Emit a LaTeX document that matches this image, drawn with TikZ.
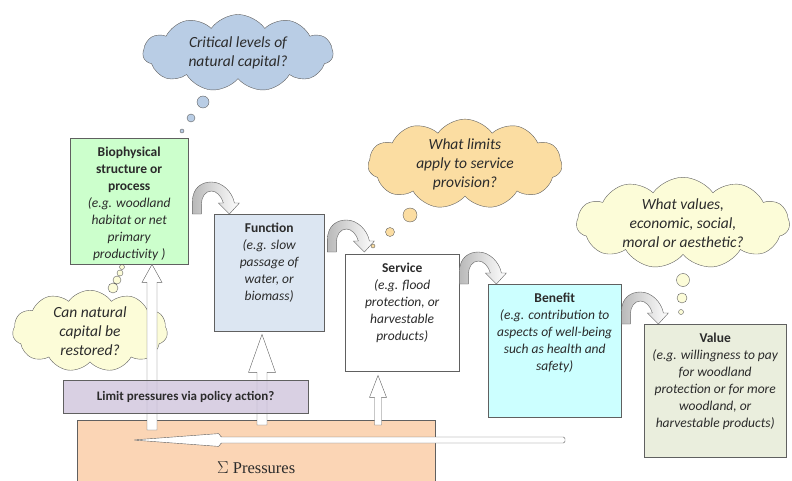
\documentclass[tikz,border=0pt]{standalone}
\usepackage{fontspec}
\setmainfont{Carlito}
\newfontfamily\timesfont{Liberation Serif}
\usetikzlibrary{shapes.symbols,calc}

\definecolor{txt}{HTML}{2B2B2B}
\definecolor{edge}{HTML}{606060}
\definecolor{biofill}{HTML}{CCFFCC}
\definecolor{funfill}{HTML}{DCE6F2}
\definecolor{benfill}{HTML}{CCFFFF}
\definecolor{valfill}{HTML}{EAEEDD}
\definecolor{pressfill}{HTML}{FBD5B5}
\definecolor{polfill}{HTML}{CCC0DA}
\definecolor{cloudblue}{HTML}{B9CDE5}
\definecolor{cloudtan}{HTML}{FBDDA2}
\definecolor{cloudpale}{HTML}{FCFCD8}

% text of a box, set from the top
\newcommand\boxtext[3]{\parbox[t][#2][t]{#1}{\centering\vspace*{9pt}#3}}

% hollow block arrow going up from #1 to #2
\newcommand\blockup[5]{%
  \draw[blockarr] let \p1=(#1), \p2=(#2) in
    (\x1-#3,\y1) -- (\x1-#3,\y2-#5) -- (\x1-#4,\y2-#5) -- (\x1,\y2)
    -- (\x1+#4,\y2-#5) -- (\x1+#3,\y2-#5) -- (\x1+#3,\y1) -- cycle;}

\tikzset{
  box/.style={draw=edge, inner sep=0pt, anchor=north west, text=txt,
    font=\fontsize{13.5}{17}\selectfont},
  thought/.style={cloud, cloud puffs=11, cloud puff arc=110, cloud ignores aspect,
    draw=edge, align=center, text=txt, inner sep=0pt,
    font=\fontsize{15.5}{19}\selectfont\itshape},
  bubble/.style={draw=edge},
  blockarr/.style={draw=edge, fill=white, line join=miter},
  bendarr/.style={draw=edge, left color=gray!55, right color=white},
  pics/bend/.style={code={
    \path[bendarr] (0,0) -- (0,-12) .. controls (0,-27) and (10,-32) .. (19,-32)
      .. controls (30,-32) and (40,-22) .. (42,-11) -- (47,-11) -- (37,0)
      -- (26,-11) -- (31,-11) .. controls (29,-18) and (24,-23) .. (19,-23)
      .. controls (13,-23) and (9,-17) .. (9,-10) -- (9,0) -- cycle;
  }}
}

\begin{document}
\begin{tikzpicture}[x=1pt,y=-1pt]
\useasboundingbox (0,0) rectangle (792,481);

% thought clouds
\node[thought, fill=cloudblue, minimum width=190pt, minimum height=77pt] (crit) at (238,53)
  {Critical levels of\\natural capital?};
\draw[bubble, fill=cloudblue] (203,102) circle [radius=6pt] (191,118) circle [radius=4pt]
  (182,131) circle [radius=2pt];

\node[thought, fill=cloudtan, minimum width=194pt, minimum height=85pt] (limits) at (465,164)
  {What limits\\apply to service\\provision?};
\draw[bubble, fill=cloudtan] (410,215) circle [radius=7pt] (390,232) circle [radius=4.5pt]
  (373,246) circle [radius=2pt];

\node[thought, fill=cloudpale, minimum width=213pt, minimum height=87pt] (values) at (683,223)
  {What values,\\economic, social,\\moral or aesthetic?};
\draw[bubble, fill=cloudpale] (683,280) circle [radius=6.5pt] (682,298) circle [radius=5pt]
  (681,312) circle [radius=2.5pt];

\node[thought, fill=cloudpale, minimum width=155pt, minimum height=73pt] (restore) at (90,331)
  {Can natural\\capital be\\restored?};
\draw[bubble, fill=cloudpale] (113,288) circle [radius=5pt] (117,280) circle [radius=4pt]
  (120,273) circle [radius=3pt] (122,267) circle [radius=2.5pt];

% the chain of boxes
\node[box, fill=biofill] (bio) at (70,138) {\boxtext{118pt}{126pt}{%
  \textbf{Biophysical\\structure or\\process}\\
  {\itshape (e.g. woodland\\habitat or net\\primary\\productivity )}}};
\node[box, fill=funfill] (fun) at (214,214) {\boxtext{110pt}{117pt}{%
  \textbf{Function}\\
  {\itshape (e.g. slow\\passage of\\water, or\\biomass)}}};
\node[box, fill=white] (serv) at (345,254) {\boxtext{114pt}{117pt}{%
  \textbf{Service}\\
  {\itshape (e.g. flood\\protection, or\\harvestable\\products)}}};
\node[box, fill=benfill] (ben) at (488,284) {\boxtext{133pt}{133pt}{%
  \textbf{Benefit}\\
  {\itshape (e.g. contribution to\\aspects of well-being\\such as health and\\safety)}}};
\node[box, fill=valfill] (val) at (644,324) {\boxtext{142pt}{133pt}{%
  \textbf{Value}\\
  {\itshape (e.g. willingness to pay\\for woodland\\protection or for more\\woodland, or\\harvestable products)}}};

% bent arrows from box to box
\pic at ($(bio.east |- fun.north)+(4,0)$) {bend};
\pic at ($(fun.east |- serv.north)+(3,-2)$) {bend};
\pic at (serv.east |- ben.north) {bend};
\pic at (ben.east |- val.north) {bend};

% pressures
\node[box, fill=pressfill, minimum width=358pt, minimum height=94pt,
  font=\fontsize{16.5}{18}\timesfont] (press) at (77,420) {$\Sigma$ Pressures};

\coordinate (bioin) at (152,430);
\coordinate (funin) at (262,425);
\coordinate (servin) at (378,425);
\blockup{bioin}{bioin |- bio.south}{5}{10}{18}
\blockup{funin}{$(funin |- fun.south)+(0,3)$}{5}{13.5}{38}
\blockup{servin}{$(servin |- serv.south)+(0,4)$}{3.5}{8.5}{22}

\coordinate (tail) at (565,440);
\coordinate (tip) at (133,440);
\draw[blockarr, rounded corners=1.5pt] let \p1=(tail), \p2=(tip) in
  (\x1,\y1+3) -- (\x2+87,\y1+3) -- (\x2+87,\y1+6.5) -- (\x2,\y2)
  -- (\x2+87,\y1-6.5) -- (\x2+87,\y1-3) -- (\x1,\y1-3) -- cycle;

% policy
\node[box, fill=polfill, fill opacity=0.75, text opacity=1, minimum width=245pt,
  minimum height=33pt, font=\fontsize{13}{15}\selectfont\bfseries] (policy) at (63,380)
  {Limit pressures via policy action?};
\end{tikzpicture}
\end{document}
